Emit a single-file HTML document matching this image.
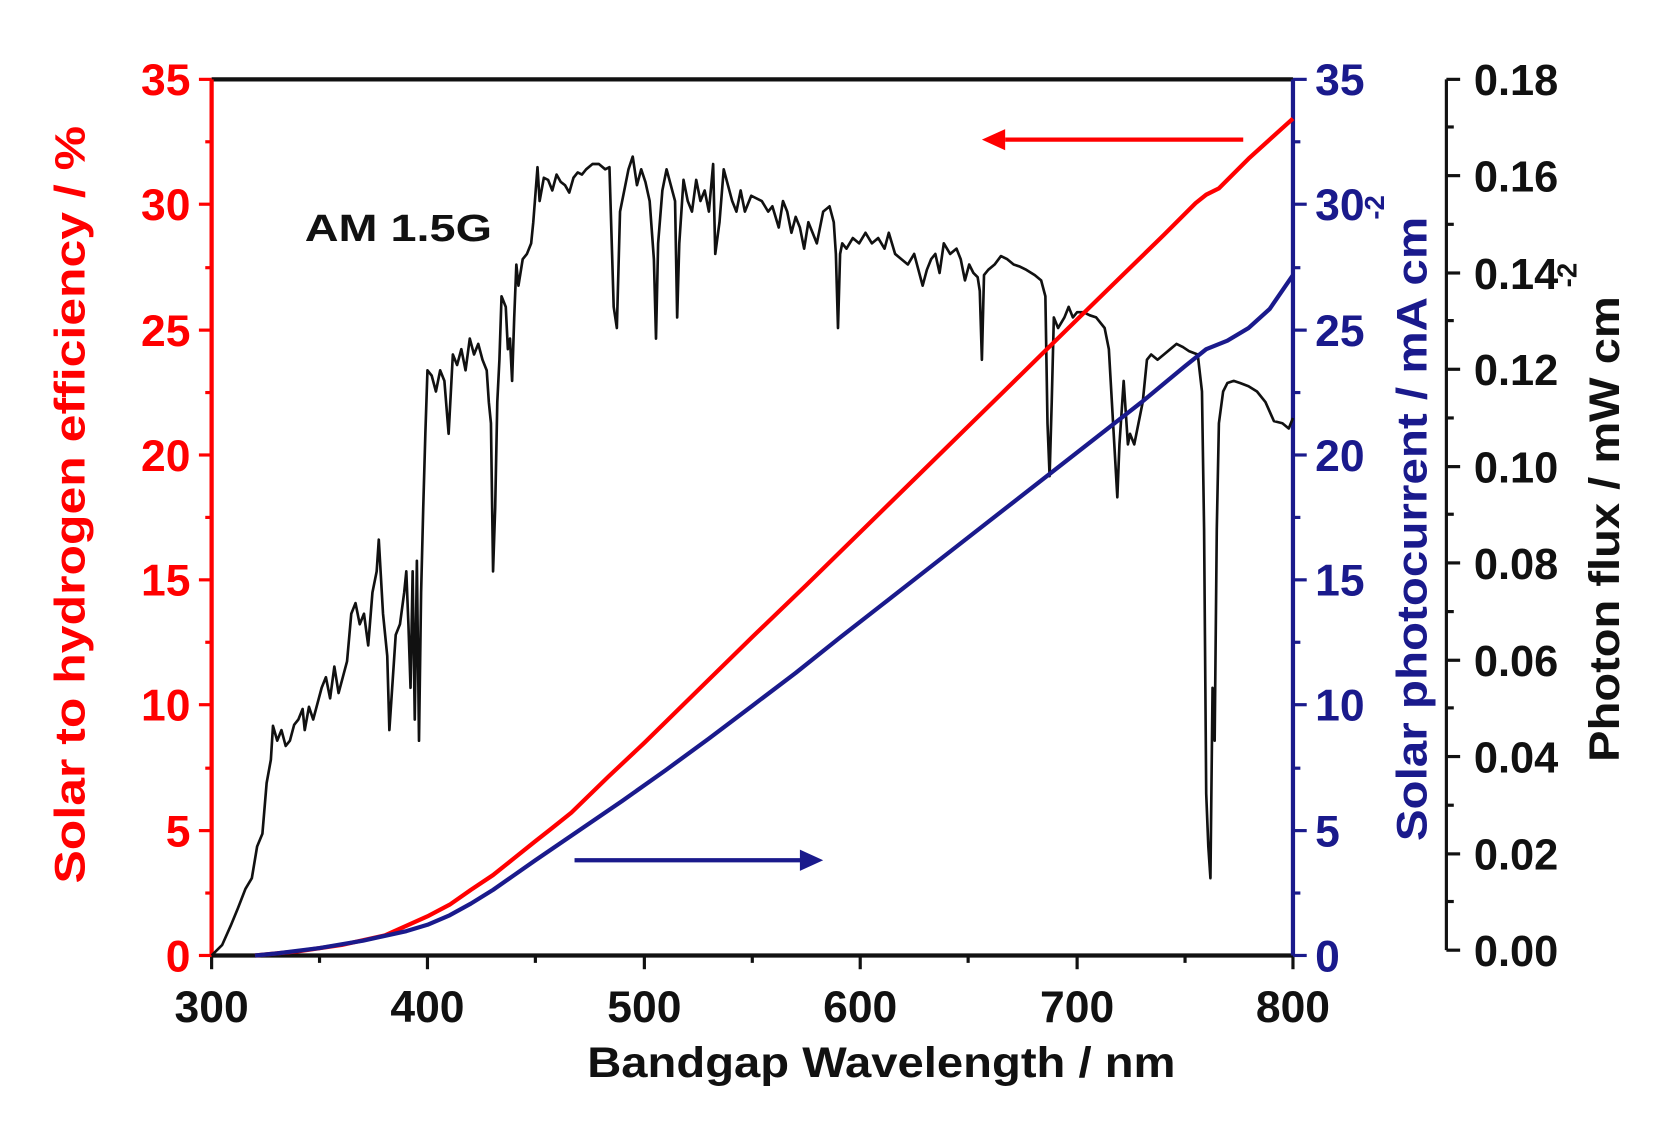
<!DOCTYPE html>
<html><head><meta charset="utf-8"><style>
html,body{margin:0;padding:0;background:#fff;}
svg{display:block;}
text{font-family:"Liberation Sans",Arial,sans-serif;font-weight:bold;}
</style></head><body>
<svg width="1658" height="1129" viewBox="0 0 1567 1067" preserveAspectRatio="none" xmlns="http://www.w3.org/2000/svg">
<rect x="0" y="0" width="1567" height="1067" fill="#fff"/>
<line x1="200" y1="75" x2="1222" y2="75" stroke="#111" stroke-width="4"/>
<line x1="200" y1="903" x2="1222" y2="903" stroke="#111" stroke-width="4"/>
<g stroke="#111" stroke-width="3">
<line x1="200" y1="903" x2="200" y2="916"/><line x1="302" y1="903" x2="302" y2="910"/>
<line x1="404" y1="903" x2="404" y2="916"/><line x1="506" y1="903" x2="506" y2="910"/>
<line x1="609" y1="903" x2="609" y2="916"/><line x1="711" y1="903" x2="711" y2="910"/>
<line x1="813" y1="903" x2="813" y2="916"/><line x1="915" y1="903" x2="915" y2="910"/>
<line x1="1018" y1="903" x2="1018" y2="916"/><line x1="1120" y1="903" x2="1120" y2="910"/>
<line x1="1222" y1="903" x2="1222" y2="916"/>
</g>
<g font-size="42" fill="#111" text-anchor="middle">
<text x="200" y="966">300</text><text x="404" y="966">400</text><text x="609" y="966">500</text>
<text x="813" y="966">600</text><text x="1018" y="966">700</text><text x="1222" y="966">800</text>
</g>
<text x="833" y="1018" font-size="40" fill="#111" text-anchor="middle" textLength="556" lengthAdjust="spacingAndGlyphs">Bandgap Wavelength / nm</text>

<line x1="200" y1="75" x2="200" y2="903" stroke="#f00" stroke-width="4"/>
<g stroke="#f00" stroke-width="3">
<line x1="188" y1="903" x2="200" y2="903"/><line x1="194" y1="844" x2="200" y2="844"/>
<line x1="188" y1="785" x2="200" y2="785"/><line x1="194" y1="726" x2="200" y2="726"/>
<line x1="188" y1="666" x2="200" y2="666"/><line x1="194" y1="607" x2="200" y2="607"/>
<line x1="188" y1="548" x2="200" y2="548"/><line x1="194" y1="489" x2="200" y2="489"/>
<line x1="188" y1="430" x2="200" y2="430"/><line x1="194" y1="371" x2="200" y2="371"/>
<line x1="188" y1="312" x2="200" y2="312"/><line x1="194" y1="253" x2="200" y2="253"/>
<line x1="188" y1="193" x2="200" y2="193"/><line x1="194" y1="134" x2="200" y2="134"/>
<line x1="188" y1="75" x2="200" y2="75"/>
</g>
<g font-size="42" fill="#f00" text-anchor="end">
<text x="180" y="918">0</text><text x="180" y="800">5</text><text x="180" y="681">10</text>
<text x="180" y="563">15</text><text x="180" y="445">20</text><text x="180" y="327">25</text>
<text x="180" y="208">30</text><text x="180" y="90">35</text>
</g>
<text transform="translate(80,477) rotate(-90)" font-size="40" fill="#f00" text-anchor="middle" textLength="716" lengthAdjust="spacingAndGlyphs">Solar to hydrogen efficiency / %</text>

<line x1="1222" y1="75" x2="1222" y2="903" stroke="#1a1a8c" stroke-width="4"/>
<g stroke="#1a1a8c" stroke-width="3">
<line x1="1222" y1="903" x2="1235" y2="903"/><line x1="1222" y1="844" x2="1229" y2="844"/>
<line x1="1222" y1="785" x2="1235" y2="785"/><line x1="1222" y1="726" x2="1229" y2="726"/>
<line x1="1222" y1="666" x2="1235" y2="666"/><line x1="1222" y1="607" x2="1229" y2="607"/>
<line x1="1222" y1="548" x2="1235" y2="548"/><line x1="1222" y1="489" x2="1229" y2="489"/>
<line x1="1222" y1="430" x2="1235" y2="430"/><line x1="1222" y1="371" x2="1229" y2="371"/>
<line x1="1222" y1="312" x2="1235" y2="312"/><line x1="1222" y1="253" x2="1229" y2="253"/>
<line x1="1222" y1="193" x2="1235" y2="193"/><line x1="1222" y1="134" x2="1229" y2="134"/>
<line x1="1222" y1="75" x2="1235" y2="75"/>
</g>
<g font-size="42" fill="#1a1a8c" text-anchor="start">
<text x="1243" y="918">0</text><text x="1243" y="800">5</text><text x="1243" y="681">10</text>
<text x="1243" y="563">15</text><text x="1243" y="445">20</text><text x="1243" y="327">25</text>
<text x="1243" y="208">30</text><text x="1243" y="90">35</text>
</g>
<text transform="translate(1348,500) rotate(-90)" font-size="40" fill="#1a1a8c" text-anchor="middle" textLength="590" lengthAdjust="spacingAndGlyphs">Solar photocurrent / mA cm</text>
<text transform="translate(1308,196) rotate(-90)" font-size="26" fill="#1a1a8c" text-anchor="middle">-2</text>

<line x1="1367" y1="75" x2="1367" y2="898" stroke="#111" stroke-width="3"/>
<g stroke="#111" stroke-width="3">
<line x1="1367" y1="898" x2="1380" y2="898"/><line x1="1367" y1="852" x2="1374" y2="852"/>
<line x1="1367" y1="807" x2="1380" y2="807"/><line x1="1367" y1="761" x2="1374" y2="761"/>
<line x1="1367" y1="715" x2="1380" y2="715"/><line x1="1367" y1="669" x2="1374" y2="669"/>
<line x1="1367" y1="624" x2="1380" y2="624"/><line x1="1367" y1="578" x2="1374" y2="578"/>
<line x1="1367" y1="532" x2="1380" y2="532"/><line x1="1367" y1="486" x2="1374" y2="486"/>
<line x1="1367" y1="441" x2="1380" y2="441"/><line x1="1367" y1="395" x2="1374" y2="395"/>
<line x1="1367" y1="349" x2="1380" y2="349"/><line x1="1367" y1="303" x2="1374" y2="303"/>
<line x1="1367" y1="258" x2="1380" y2="258"/><line x1="1367" y1="212" x2="1374" y2="212"/>
<line x1="1367" y1="166" x2="1380" y2="166"/><line x1="1367" y1="120" x2="1374" y2="120"/>
<line x1="1367" y1="75" x2="1380" y2="75"/>
</g>
<g font-size="41" fill="#111" text-anchor="start">
<text x="1393" y="913">0.00</text><text x="1393" y="822">0.02</text><text x="1393" y="730">0.04</text>
<text x="1393" y="639">0.06</text><text x="1393" y="547">0.08</text><text x="1393" y="456">0.10</text>
<text x="1393" y="364">0.12</text><text x="1393" y="273">0.14</text><text x="1393" y="181">0.16</text>
<text x="1393" y="90">0.18</text>
</g>
<text transform="translate(1530,500) rotate(-90)" font-size="40" fill="#111" text-anchor="middle" textLength="440" lengthAdjust="spacingAndGlyphs">Photon flux / mW cm</text>
<text transform="translate(1490,260) rotate(-90)" font-size="26" fill="#111" text-anchor="middle">-2</text>

<text x="288" y="228" font-size="36" fill="#111" textLength="177" lengthAdjust="spacingAndGlyphs">AM 1.5G</text>

<polyline fill="none" stroke="#111" stroke-width="2.5" stroke-linejoin="round" points="200,903 210,893 218,875 225,858 232,840 238,830 243,800 248,788 252,740 256,718 258,686 262,700 266,690 270,705 274,700 278,685 282,680 286,670 288,690 292,668 296,680 300,665 304,650 308,640 312,660 316,630 320,655 324,640 328,625 332,580 336,570 340,590 344,580 348,610 352,560 356,540 358,510 362,580 366,620 368,690 370,660 374,600 378,590 382,560 384,540 386,590 388,650 390,540 392,680 394,530 396,700 398,560 400,480 402,410 404,350 408,355 412,370 416,350 420,360 424,410 428,335 432,345 436,330 440,350 444,320 448,335 452,325 456,340 460,350 462,380 464,400 466,540 468,480 470,380 472,340 474,280 478,290 480,330 482,320 484,360 486,300 488,250 490,270 494,245 498,240 502,230 504,210 508,158 510,190 514,168 518,170 522,180 526,165 530,172 534,175 538,182 542,168 546,163 550,165 554,160 560,155 566,155 572,160 576,158 580,290 583,310 586,200 590,180 594,160 598,148 602,175 606,160 610,172 614,190 618,245 620,320 622,230 626,180 630,160 634,175 638,190 640,300 642,230 646,170 650,190 654,200 658,170 662,190 666,180 670,200 674,155 676,240 680,210 684,160 688,175 692,190 696,200 700,180 704,200 710,185 720,190 726,200 730,195 736,215 740,190 744,200 748,220 752,205 756,215 760,235 764,210 768,220 772,230 778,200 784,195 788,210 790,240 792,310 794,240 796,230 800,235 806,225 812,230 818,220 824,230 830,225 836,235 840,220 846,240 852,245 858,250 864,240 868,255 872,270 876,255 880,245 884,240 888,258 892,230 898,240 904,235 908,245 912,265 916,250 920,258 924,262 926,275 928,340 930,260 934,255 940,250 946,242 952,245 958,250 964,252 970,255 978,260 984,265 988,280 990,400 992,450 994,380 996,300 1000,310 1006,300 1010,290 1014,300 1018,295 1024,295 1030,298 1036,300 1044,310 1048,330 1052,400 1056,470 1058,420 1062,360 1064,390 1066,420 1068,410 1072,420 1076,400 1080,380 1084,340 1088,335 1094,340 1100,335 1106,330 1112,325 1118,328 1124,332 1132,335 1136,370 1138,500 1140,750 1142,800 1144,830 1146,650 1148,700 1150,500 1152,400 1156,370 1160,362 1166,360 1172,362 1180,365 1188,370 1196,380 1204,398 1212,400 1218,405 1222,395"/>

<polyline fill="none" stroke="#f00" stroke-width="4" stroke-linejoin="round" points="241,903 282,899 323,893 364,884 404,866 425,855 445,841 466,827 486,811 506,795 520,784 540,768 575,734 609,702 660,652 711,602 762,553 813,503 864,453 915,403 966,353 1018,302 1060,261 1100,222 1130,192 1140,184 1152,178 1180,150 1222,112"/>
<polyline fill="none" stroke="#1a1a8c" stroke-width="4" stroke-linejoin="round" points="241,903 262,901 302,896 343,889 384,880 404,874 425,865 445,854 466,841 486,827 506,813 547,785 588,757 629,728 670,698 711,667 752,636 792,604 833,572 874,540 915,508 956,476 997,444 1038,412 1079,380 1120,346 1140,330 1160,322 1180,310 1200,292 1222,260"/>

<line x1="950" y1="132" x2="1175" y2="132" stroke="#f00" stroke-width="4"/>
<polygon points="928,132 950,122 950,142" fill="#f00"/>
<line x1="543" y1="813" x2="758" y2="813" stroke="#1a1a8c" stroke-width="4"/>
<polygon points="778,813 756,803 756,823" fill="#1a1a8c"/>
</svg>
</body></html>
